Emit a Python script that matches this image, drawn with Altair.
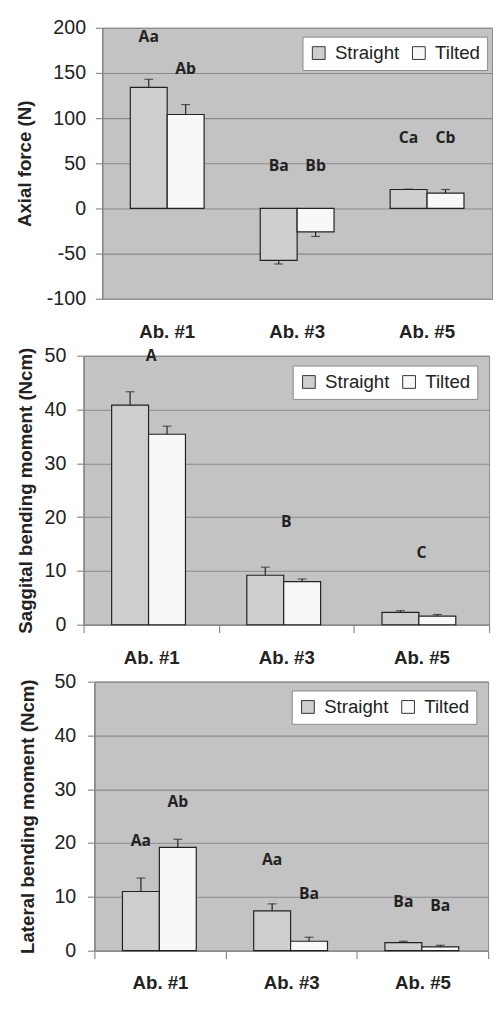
import altair as alt
import pandas as pd

categories = ["Ab. #1", "Ab. #3", "Ab. #5"]
groups = ["Straight", "Tilted"]
group_colors = ["#cecece", "#f8f8f8"]

# values per (category, group): Ab1-S, Ab1-T, Ab3-S, Ab3-T, Ab5-S, Ab5-T
axial_mean = [134, 104, -57.5, -26, 21, 17]
axial_sd = [9, 11, 4, 5, 0.3, 4]
sag_mean = [40.8, 35.4, 9.2, 8.0, 2.3, 1.6]
sag_sd = [2.5, 1.5, 1.5, 0.5, 0.3, 0.3]
lat_mean = [11.0, 19.2, 7.4, 1.75, 1.5, 0.7]
lat_sd = [2.5, 1.5, 1.3, 0.75, 0.25, 0.3]

axial_letters = ["Aa", "Ab", "Ba", "Bb", "Ca", "Cb"]
axial_letter_y = [190, 154, 46.5, 46.5, 77.5, 77.5]
sag_letters = ["A", "B", "C"]
sag_letter_y = [49.9, 19.1, 13.3]
lat_letters = ["Aa", "Ab", "Aa", "Ba", "Ba", "Ba"]
lat_letter_y = [20.4, 27.7, 16.9, 10.5, 9.0, 8.3]

axial_ticks = [-100, -50, 0, 50, 100, 150, 200]
moment_ticks = [0, 10, 20, 30, 40, 50]

GRID = "#8a8a8a"
INK = "#222222"
FONT = "Liberation Sans"

cat_col = [c for c in categories for g in groups]
grp_col = [g for c in categories for g in groups]


def make_panel(mean, sd, letters, letter_y, per_bar, ydomain, yticks, ytitle,
               width, height, legend_x, legend_y, axial, label_pad, title_pad):
    end = [m + (s if m >= 0 else -s) for m, s in zip(mean, sd)]
    df = pd.DataFrame({"cat": cat_col, "grp": grp_col, "mean": mean, "end": end})

    if axial:
        xaxis = alt.Axis(title=None, labelFontSize=19, labelFontWeight="bold",
                         labelFont=FONT, labelColor=INK, domain=False, ticks=False,
                         labelPadding=24, labelAngle=0, grid=False)
    else:
        xaxis = alt.Axis(title=None, labelFontSize=19, labelFontWeight="bold",
                         labelFont=FONT, labelColor=INK, domain=True, domainColor=GRID,
                         domainWidth=1.2, ticks=True, tickBand="extent", tickSize=8,
                         tickColor=GRID, tickWidth=1.2, labelPadding=16, labelAngle=0,
                         grid=False)

    x = alt.X("cat:N", sort=categories, axis=xaxis,
              scale=alt.Scale(paddingInner=0, paddingOuter=0))
    xo = alt.XOffset("grp:N", sort=groups,
                     scale=alt.Scale(paddingInner=0, paddingOuter=0.76))
    yscale = alt.Scale(domain=ydomain, nice=False, zero=False)
    y = alt.Y("mean:Q", scale=yscale,
              axis=alt.Axis(values=yticks, title=ytitle, grid=True, gridColor=GRID,
                            gridWidth=1.1, domainColor=GRID, domainWidth=1.6,
                            tickColor=GRID, tickWidth=1.2, tickSize=7,
                            labelPadding=label_pad, labelFont=FONT, labelFontSize=20,
                            labelColor=INK,
                            labelExpr="datum.value < 0 ? '-' + abs(datum.value) : '' + datum.value",
                            titleFont=FONT, titleFontSize=19, titleFontWeight="bold",
                            titleColor=INK, titlePadding=title_pad))

    bars = alt.Chart(df).mark_bar(stroke=INK, strokeWidth=1.2).encode(
        x=x, xOffset=xo, y=y, y2=alt.datum(0),
        fill=alt.Fill("grp:N", sort=groups,
                      scale=alt.Scale(domain=groups, range=group_colors),
                      legend=alt.Legend(orient="none", legendX=legend_x, legendY=legend_y,
                                        direction="horizontal", title=None,
                                        fillColor="white", strokeColor=GRID, padding=7,
                                        symbolType="square", symbolSize=169,
                                        symbolStrokeColor="#333333", symbolStrokeWidth=1,
                                        labelFont=FONT, labelFontSize=19, labelColor=INK,
                                        columnPadding=10, labelOffset=7)),
    )
    err = alt.Chart(df).mark_rule(color=INK, strokeWidth=1.2).encode(
        x=x, xOffset=xo, y="mean:Q", y2="end:Q")
    cap = alt.Chart(df).mark_tick(color=INK, size=9, thickness=1.2).encode(
        x=x, xOffset=xo, y="end:Q")

    if per_bar:
        ldf = pd.DataFrame({"cat": cat_col, "grp": grp_col, "txt": letters, "ly": letter_y})
        txt = alt.Chart(ldf).mark_text(font="Open Sans", fontWeight="bold", fontSize=16,
                                       color=INK, baseline="middle").encode(
            x=x, xOffset=xo, y=alt.Y("ly:Q"), text="txt:N")
    else:
        ldf = pd.DataFrame({"cat": categories, "txt": letters, "ly": letter_y})
        txt = alt.Chart(ldf).mark_text(font="Open Sans", fontWeight="bold", fontSize=16,
                                       color=INK, baseline="middle").encode(
            x=x, y=alt.Y("ly:Q"), text="txt:N")

    return alt.layer(bars, err, cap, txt).properties(width=width, height=height)


def spacer(w):
    return alt.Chart(pd.DataFrame({"v": [0]})).mark_point(opacity=0).properties(
        width=w, height=1,
        view=alt.ViewBackground(fill="transparent", stroke="transparent"))


def row(w, panel):
    return alt.hconcat(spacer(w), panel, spacing=0).resolve_scale(
        fill="independent").resolve_legend(fill="independent")


p1 = make_panel(axial_mean, axial_sd, axial_letters, axial_letter_y, True,
                [-100, 200], axial_ticks, "Axial force (N)", 397, 276, 204, 9, True,
                10, 12)
p2 = make_panel(sag_mean, sag_sd, sag_letters, sag_letter_y, False,
                [0, 50], moment_ticks, "Saggital bending moment (Ncm)", 413, 274, 213, 10,
                False, 11, 9)
p3 = make_panel(lat_mean, lat_sd, lat_letters, lat_letter_y, True,
                [0, 50], moment_ticks, "Lateral bending moment (Ncm)", 401, 274, 201, 9,
                False, 12, 17)

chart = alt.vconcat(row(1, p1), row(3, p2), row(6, p3), spacing=3).resolve_scale(
    fill="independent").resolve_legend(fill="independent").properties(
    padding={"top": 0, "bottom": -7, "left": 0, "right": 0}).configure_view(
    fill="#c3c3c3", stroke=GRID, strokeWidth=1)

chart.save("out.html", embed_options={"renderer": "svg", "actions": False})
